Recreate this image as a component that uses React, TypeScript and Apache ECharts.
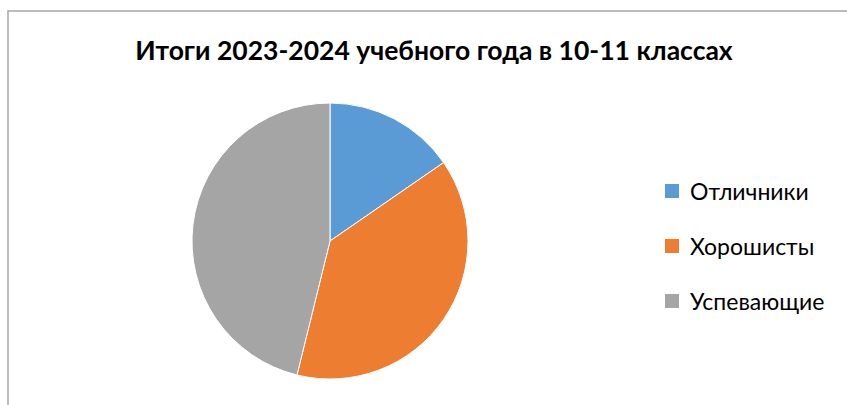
import React, { useEffect, useRef } from "react";
import * as echarts from "echarts";

const titleText = "Итоги 2023-2024 учебного года в 10-11 классах";
const categories = ["Отличники", "Хорошисты", "Успевающие"];
const values = [8, 20, 24];
const colors = ["#5b9bd5", "#ed7d31", "#a5a5a5"];

export default function App() {
  const ref = useRef<HTMLDivElement>(null);
  useEffect(() => {
    if (!ref.current) return;
    const chart = echarts.init(ref.current, undefined, { renderer: "svg" });
    chart.setOption({
      animation: false,
      backgroundColor: "#ffffff",
      title: {
        text: titleText,
        left: 434,
        top: 36,
        padding: 0,
        textAlign: "center",
        textStyle: {
          fontFamily: "Lato, 'Noto Sans', sans-serif",
          fontWeight: "bold",
          fontSize: 26.5,
          color: "#000000",
        },
      },
      legend: {
        orient: "vertical",
        left: 663,
        top: 179,
        padding: 0,
        itemWidth: 16,
        itemHeight: 16,
        itemGap: 31,
        icon: "rect",
        data: categories,
        textStyle: {
          fontFamily: "Lato, 'Noto Sans', sans-serif",
          fontSize: 23,
          lineHeight: 24,
          color: "#000000",
          padding: [0, 0, 0, 5],
        },
      },
      graphic: [
        {
          type: "rect",
          shape: { x: 8, y: 11, width: 900, height: 500 },
          style: { fill: "none", stroke: "#a6a6a6", lineWidth: 1.5 },
          silent: true,
        },
      ],
      series: [
        {
          type: "pie",
          center: [330, 241],
          radius: 138,
          startAngle: 90,
          clockwise: true,
          label: { show: false },
          labelLine: { show: false },
          itemStyle: { borderColor: "#ffffff", borderWidth: 1 },
          emphasis: { disabled: true },
          data: categories.map((name, i) => ({
            name,
            value: values[i],
            itemStyle: { color: colors[i] },
          })),
        },
      ],
    });
    return () => chart.dispose();
  }, []);
  return (
    <div
      ref={ref}
      style={{ position: "fixed", left: 0, top: 0, width: 847, height: 405 }}
    />
  );
}
